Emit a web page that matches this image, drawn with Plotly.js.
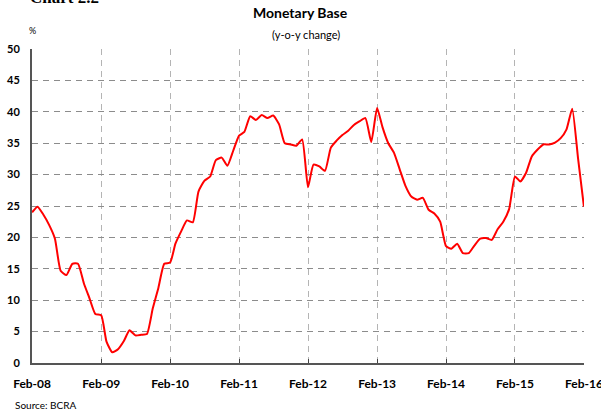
<!DOCTYPE html>
<html>
<head>
<meta charset="utf-8">
<script src="https://cdn.plot.ly/plotly-3.0.1.min.js"></script>
<style>html,body{margin:0;padding:0;background:#fff;}#chart{width:601px;height:413px;}</style>
</head>
<body>
<div id="chart"></div>
<script>
// Monthly y-o-y change of the monetary base, Feb-08 .. Feb-16 (%)
var startYear = 2008, startMonth = 2;
var baseGrowth = [
  24.0, 24.9, 23.6, 22.0, 19.8, 14.7, 14.0, 15.8, 15.8, 12.7, 10.3, 7.8,
  7.6, 3.4, 1.7, 2.2, 3.5, 5.2, 4.4, 4.5, 4.6, 8.7, 12.0, 15.8,
  16.0, 19.0, 21.0, 22.7, 22.4, 27.3, 29.0, 29.7, 32.3, 32.7, 31.4, 33.8,
  36.2, 36.8, 39.3, 38.7, 39.5, 39.0, 39.4, 38.0, 35.0, 34.8, 34.6, 35.6,
  28.0, 31.6, 31.3, 30.6, 34.3, 35.4, 36.3, 37.0, 37.9, 38.5, 39.0, 35.2,
  40.6, 37.6, 35.0, 33.5, 30.8, 28.2, 26.5, 26.0, 26.3, 24.4, 23.8, 22.5,
  18.6, 18.2, 19.0, 17.5, 17.5, 18.7, 19.8, 19.9, 19.6, 21.3, 22.5, 24.5,
  29.7, 28.9, 30.3, 32.9, 34.0, 34.8, 34.8, 35.1, 35.8, 37.2, 40.5, 32.6,
  24.9
];
var tickDates = ["2008-02-01","2009-02-01","2010-02-01","2011-02-01","2012-02-01","2013-02-01","2014-02-01","2015-02-01","2016-02-01"];
var tickLabels = ["Feb-08","Feb-09","Feb-10","Feb-11","Feb-12","Feb-13","Feb-14","Feb-15","Feb-16"];
var yTicks = [0,5,10,15,20,25,30,35,40,45,50];

var months = [];
for (var i = 0; i < baseGrowth.length; i++) {
  var mm = startMonth - 1 + i;
  var y = startYear + Math.floor(mm / 12);
  var m = (mm % 12) + 1;
  months.push(y + "-" + (m < 10 ? "0" + m : m) + "-01");
}

var font = "Lato, 'Open Sans', sans-serif";
var trace = {
  x: months, y: baseGrowth, type: "scatter", mode: "lines",
  line: {color: "#ff0000", width: 2, shape: "spline", smoothing: 0.5},
  hoverinfo: "skip", cliponaxis: false
};
var layout = {
  width: 601, height: 413,
  margin: {l: 32, r: 17, t: 49, b: 50},
  paper_bgcolor: "#ffffff", plot_bgcolor: "#ffffff",
  showlegend: false,
  font: {family: font, color: "#000"},
  xaxis: {
    type: "date", range: ["2008-01-31 12:00","2016-02-01 12:00"],
    tickmode: "array", tickvals: tickDates, ticktext: tickLabels,
    tickfont: {family: font, size: 12, color: "#000", weight: "bold"},
    ticks: "inside", ticklen: 4, tickwidth: 1, tickcolor: "#444",
    ticklabelstandoff: 9, ticklabeloverflow: "allow",
    showline: true, linecolor: "#555", linewidth: 2,
    showgrid: true, gridcolor: "#b4b4b4", gridwidth: 1, griddash: "6px,5px",
    zeroline: false, fixedrange: true
  },
  yaxis: {
    range: [0, 50], tickmode: "array", tickvals: yTicks,
    tickfont: {family: font, size: 11, color: "#000", weight: "bold"},
    ticks: "", ticklabelstandoff: 8,
    showline: true, linecolor: "#555", linewidth: 2,
    showgrid: true, gridcolor: "#8c8c8c", gridwidth: 1, griddash: "6px,5px",
    zeroline: false, fixedrange: true
  },
  annotations: [
    {text: "<b>Monetary Base</b>", xref: "paper", yref: "paper", x: 0.5, y: 1.115, xanchor: "center", yanchor: "middle",
     showarrow: false, font: {family: font, size: 14, color: "#000"}, xshift: -8},
    {text: "(y-o-y change)", xref: "paper", yref: "paper", x: 0.5, y: 1.045, xanchor: "center", yanchor: "middle",
     showarrow: false, font: {family: font, size: 11, color: "#000"}, xshift: -2},
    {text: "%", xref: "paper", yref: "paper", x: 0, y: 1.06, xanchor: "center", yanchor: "middle",
     showarrow: false, font: {family: font, size: 9, color: "#000"}},
    {text: "Source: BCRA", xref: "paper", yref: "paper", x: -0.034, y: -0.135, xanchor: "left", yanchor: "middle",
     showarrow: false, font: {family: font, size: 10, color: "#000"}},
    {text: "<b>Chart 2.2</b>", xref: "paper", yref: "paper", x: -0.008, y: 1.127, xanchor: "left", yanchor: "bottom",
     showarrow: false, font: {family: "'Liberation Serif', 'Times New Roman', serif", size: 17, color: "#000"}}
  ]
};
Plotly.newPlot("chart", [trace], layout, {displayModeBar: false, staticPlot: true});
</script>
</body>
</html>
